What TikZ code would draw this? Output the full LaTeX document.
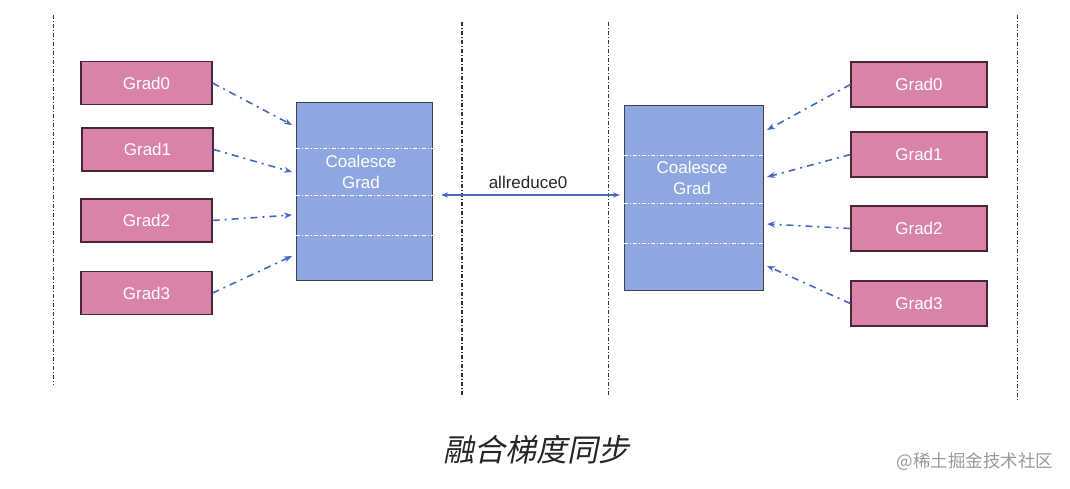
\documentclass[tikz,border=0pt]{standalone}
\usepackage{fontspec}
\setmainfont{Liberation Sans}
\newfontfamily\cjk{Noto Sans CJK SC}
\newfontfamily\cjkit[FakeSlant=0.2]{Noto Sans CJK SC}
\usetikzlibrary{arrows.meta}
\definecolor{gradpink}{HTML}{D982AA}
\definecolor{gradborder}{HTML}{4A2636}
\definecolor{coalblue}{HTML}{8EA7E0}
\definecolor{coalborder}{HTML}{3C4250}
\definecolor{arrowblue}{HTML}{4468C4}
\begin{document}
\begin{tikzpicture}[x=1pt,y=-1pt,
  gradbox/.style={draw=gradborder,line width=1.2pt,fill=gradpink,text=white,font=\fontsize{17}{19}\selectfont,minimum width=131pt,minimum height=43pt,inner sep=0pt},
  coalbox/.style={draw=coalborder,line width=1pt,fill=coalblue,inner sep=0pt},
  sepline/.style={white,line width=0.7pt,dash pattern=on 4pt off 2pt on 1pt off 2pt},
  vline/.style={black!80,line width=0.8pt,dash pattern=on 4pt off 2pt on 1pt off 2pt},
  garrow/.style={arrowblue,line width=1.6pt,dash pattern=on 7pt off 5pt on 2pt off 5pt,-{Stealth[length=8pt,width=6pt]}},
]
\useasboundingbox (0,0) rectangle (1070,489);
% vertical separators
\coordinate (v1t) at (53,15); \coordinate (v1b) at (53,385);
\coordinate (v2t) at (462,22); \coordinate (v2b) at (462,395);
\coordinate (v3t) at (608,22); \coordinate (v3b) at (608,395);
\coordinate (v4t) at (1017,15); \coordinate (v4b) at (1017,400);
\draw[vline] (v1t) -- (v1b);
\draw[vline,line width=1.1pt] (v2t) -- (v2b);
\draw[vline,line width=0.6pt] (v3t) -- (v3b);
\draw[vline,line width=1pt] (v4t) -- (v4b);
% left grads
\node[gradbox] (lg0) at (146.5,83) {Grad0};
\node[gradbox] (lg1) at (147.5,149.5) {Grad1};
\node[gradbox] (lg2) at (146.5,220.5) {Grad2};
\node[gradbox] (lg3) at (146.5,293) {Grad3};
% right grads
\node[gradbox,minimum width=136pt,minimum height=45pt] (rg0) at (919,84.5) {Grad0};
\node[gradbox,minimum width=136pt,minimum height=45pt] (rg1) at (919,154.5) {Grad1};
\node[gradbox,minimum width=136pt,minimum height=45pt] (rg2) at (919,228.5) {Grad2};
\node[gradbox,minimum width=136pt,minimum height=45pt] (rg3) at (919,303.5) {Grad3};
% coalesce boxes
\node[coalbox,minimum width=136pt,minimum height=177pt] (lc) at (364,191.5) {};
\node[coalbox,minimum width=139pt,minimum height=184pt] (rc) at (693.5,198) {};
\draw[sepline] (lc.west |- 0,148) -- (lc.east |- 0,148);
\draw[sepline] (lc.west |- 0,195) -- (lc.east |- 0,195);
\draw[sepline] (lc.west |- 0,235) -- (lc.east |- 0,235);
\draw[sepline] (rc.west |- 0,155) -- (rc.east |- 0,155);
\draw[sepline] (rc.west |- 0,203) -- (rc.east |- 0,203);
\draw[sepline] (rc.west |- 0,243) -- (rc.east |- 0,243);
\node[text=white,font=\fontsize{17}{21}\selectfont,align=center] (lct) at (361,172) {Coalesce\\Grad};
\node[text=white,font=\fontsize{17}{21}\selectfont,align=center] (rct) at (692,178) {Coalesce\\Grad};
% arrows in
\coordinate (la0) at (292,125);
\coordinate (la1) at (292,172);
\coordinate (la2) at (292,215);
\coordinate (la3) at (292,256);
\draw[garrow] (lg0.east) -- (la0);
\draw[garrow] (lg1.east) -- (la1);
\draw[garrow] (lg2.east) -- (la2);
\draw[garrow] (lg3.east) -- (la3);
\coordinate (ra0) at (767,130);
\coordinate (ra1) at (767,177);
\coordinate (ra2) at (767,224);
\coordinate (ra3) at (767,266);
\draw[garrow] (rg0.west) -- (ra0);
\draw[garrow] (rg1.west) -- (ra1);
\draw[garrow] (rg2.west) -- (ra2);
\draw[garrow] (rg3.west) -- (ra3);
% allreduce
\coordinate (arl) at (441,195);
\coordinate (arr) at (620,195);
\draw[arrowblue,line width=1.2pt,{Stealth[length=7pt,width=5pt]}-{Stealth[length=7pt,width=5pt]}] (arl) -- (arr);
\node[font=\fontsize{17}{19}\selectfont,text=black!85] (art) at (528,182) {allreduce0};
% captions
\node[font=\cjkit\fontsize{31}{34}\selectfont,text=black!85] (cap) at (536,450) {融合梯度同步};
\node[font=\cjk\fontsize{17.5}{20}\selectfont,text=black!40] (wm) at (975,462) {@稀土掘金技术社区};
\end{tikzpicture}
\end{document}
